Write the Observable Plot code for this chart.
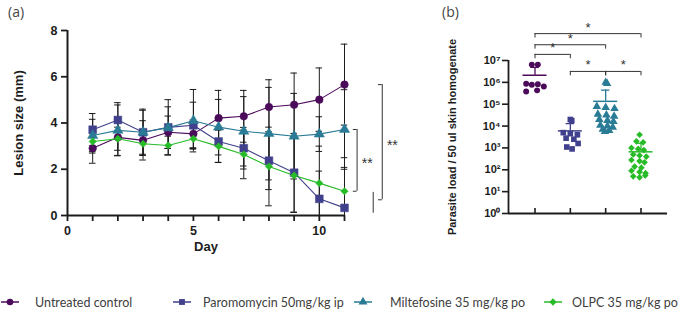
<!DOCTYPE html>
<html><head><meta charset="utf-8">
<script src="https://cdn.jsdelivr.net/npm/d3@7"></script>
<script src="https://cdn.jsdelivr.net/npm/@observablehq/plot@0.6"></script>
<style>
html,body{margin:0;padding:0;background:#fff;}
#root{position:relative;width:681px;height:311px;overflow:hidden;font-family:"Liberation Sans",Arial,sans-serif;}
.panel{position:absolute;top:0;}
.panel svg{overflow:visible;}
.tag{position:absolute;top:2px;font-family:"Open Sans",sans-serif;font-size:14px;color:#444;}
.li{position:absolute;top:293px;height:18px;display:flex;align-items:center;font-family:Lato,sans-serif;font-size:12.5px;color:#404040;white-space:nowrap;}
.li svg{display:block;}
</style></head><body><div id="root"></div>
<script>
// ---------- Panel (a): lesion size ----------
const days = [1,2,3,4,5,6,7,8,9,10,11];
const groupNames = ["Untreated control","Paromomycin 50mg/kg ip","Miltefosine 35 mg/kg po","OLPC 35 mg/kg po"];
const untreatedMean = [2.91,3.38,3.25,3.60,3.53,4.21,4.29,4.69,4.79,5.01,5.66];
const untreatedSD   = [0.65,0.78,0.85,0.70,0.60,1.20,1.12,1.18,1.37,1.37,1.75];
const paromoMean    = [3.71,4.13,3.60,3.81,3.90,3.20,2.91,2.37,1.85,0.72,0.33];
const paromoSD      = [0.70,0.75,1.00,1.20,1.00,0.90,0.90,1.25,1.70,1.20,1.75];
const miltefMean    = [3.46,3.68,3.60,3.80,4.10,3.82,3.64,3.54,3.43,3.52,3.72];
const miltefSD      = [0.70,1.10,0.95,0.90,1.35,1.20,1.50,2.00,1.85,0.75,1.72];
const olpcMean      = [3.20,3.32,3.10,3.03,3.32,2.99,2.64,2.12,1.73,1.40,1.05];
const olpcSD        = [0.50,0.50,0.50,0.40,0.45,0.70,1.05,1.70,1.60,1.60,1.45];
const xTicksA = [0,1,2,3,4,5,6,7,8,9,10,11];
const xLabelsA = [0,5,10];
const yTicksA = [0,2,4,6,8];
// significance annotations (panel a), in data units: bracket level beyond day 11
const sigA = [
  {level: 11.5, top: 3.72, bottom: 1.05, label: "**"},
  {level: 12.5, top: 5.66, bottom: 0.68, label: "**"}
];
const extraLineA = [{level: 12.14, top: 1.0, bottom: 0.1}];

// ---------- Panel (b): parasite load ----------
const untreatedLoad = [6.5e6,6.5e6,8.7e5,7.8e5,8.3e5,6.5e5,3.8e5,4.3e5];
const untreatedJit  = [-0.09,0.08,-0.25,-0.09,0.08,0.25,-0.25,0.06];
const paromoLoad    = [2.0e4,1.78e4,5.0e3,4.5e3,4.0e3,2.8e3,2.5e3,1.6e3,1.1e3,9.0e2];
const paromoJit     = [0.0,0.04,-0.2,0.0,0.2,-0.12,0.1,0.22,-0.1,0.05];
const miltefLoad    = [1.0e6,8.9e5,7.9e4,7.1e4,6.3e4,3.5e4,3.2e4,2.8e4,2.0e4,1.8e4,1.6e4,1.1e4,1.0e4,8.9e3,7.1e3,6.3e3,5.6e3];
const miltefJit     = [0.0,0.04,-0.25,0.0,0.25,-0.22,0.02,0.24,-0.18,0.05,0.22,-0.15,0.05,0.2,-0.08,0.1,-0.02];
const olpcLoad      = [4000,2000,1800,1000,900,800,500,450,400,280,250,220,140,125,90,80,70,50,45,55];
const olpcJit       = [-0.04,-0.13,0.06,-0.27,-0.08,0.08,-0.22,-0.04,0.15,-0.27,-0.04,0.1,-0.18,0.01,-0.27,-0.04,0.13,-0.22,-0.04,0.12];
const yTicksB = [1,10,100,1e3,1e4,1e5,1e6,1e7];
const sigB = [
  {from: 0, to: 3, y: 10**8.23, label: "*"},
  {from: 0, to: 2, y: 10**7.72, label: "*"},
  {from: 0, to: 1, y: 10**7.28, label: "*"},
  {from: 1, to: 2, y: 10**6.5, label: "*"},
  {from: 2, to: 3, y: 10**6.5, label: "*"}
];

// ---------- styles ----------
const colors = ["#4b0b5a","#41408d","#2a7b95","#27bb27"];
const symbols = ["circle","square","triangle","diamond2"];
const rA = [3.8,4.4,3.8,3.3];
const rB = [4.0,4.6,4.6,4.1];
const ink = "#1c1c1c";

// ---------- build tables ----------
const lesionSeries = [[untreatedMean,untreatedSD],[paromoMean,paromoSD],[miltefMean,miltefSD],[olpcMean,olpcSD]];
const lesion = lesionSeries.flatMap(([m,s],k) => days.map((d,i) => ({group: groupNames[k], k, day: d, mean: m[i], sd: s[i]})));
const loadSeries = [[untreatedLoad,untreatedJit],[paromoLoad,paromoJit],[miltefLoad,miltefJit],[olpcLoad,olpcJit]];
const load = loadSeries.flatMap(([v,j],k) => v.map((val,i) => ({group: groupNames[k], k, x: k + j[i], y: val})));
const statsB = loadSeries.map(([v],k) => ({group: groupNames[k], k, mean: d3.mean(v), sd: d3.deviation(v)}));

const colorScale = {domain: groupNames, range: colors};
const symbolScale = {domain: groupNames, range: symbols};
const baseStyle = {fontFamily: "'Liberation Sans', Arial, sans-serif", fontWeight: "bold", color: ink, background: "transparent", overflow: "visible"};

const capA = 0.13;
const plotA = Plot.plot({
  width: 420, height: 262,
  marginLeft: 67, marginRight: 76, marginTop: 30, marginBottom: 47,
  style: {...baseStyle, fontSize: "12.5px"},
  x: {domain: [0, 11]},
  y: {domain: [0, 8]},
  color: colorScale, symbol: symbolScale,
  marks: [
    Plot.axisX({ticks: xTicksA, tickFormat: d => xLabelsA.includes(d) ? String(d) : "", tickSize: 6, tickPadding: 5, strokeWidth: 1.8, label: null, fontWeight: "bold"}),
    Plot.axisY({ticks: yTicksA, tickSize: 6, tickPadding: 4, strokeWidth: 1.8, label: null, fontWeight: "bold"}),
    Plot.ruleX([0], {y1: 0, y2: 8, strokeWidth: 2, stroke: ink}),
    Plot.ruleY([0], {x1: 0, x2: 11, strokeWidth: 2, stroke: ink}),
    Plot.ruleX(lesion, {x: "day", y1: d => Math.max(0, d.mean - d.sd), y2: d => d.mean + d.sd, stroke: ink, strokeWidth: 1}),
    Plot.ruleY(lesion, {y: d => d.mean + d.sd, x1: d => d.day - capA, x2: d => d.day + capA, stroke: ink, strokeWidth: 1}),
    Plot.ruleY(lesion.filter(d => d.mean - d.sd > 0), {y: d => d.mean - d.sd, x1: d => d.day - capA, x2: d => d.day + capA, stroke: ink, strokeWidth: 1}),
    Plot.line(lesion, {x: "day", y: "mean", z: "group", stroke: "group", strokeWidth: 1.1}),
    ...groupNames.map((g,k) => Plot.dot(lesion.filter(d => d.k === k), {x: "day", y: "mean", symbol: "group", fill: "group", stroke: "group", strokeWidth: 0.5, r: rA[k]})),
    // significance brackets
    Plot.ruleX(sigA, {x: "level", y1: "bottom", y2: "top", stroke: "#333", strokeWidth: 1}),
    Plot.ruleY(sigA, {y: "top", x1: d => d.level - 0.15, x2: "level", stroke: "#333", strokeWidth: 1}),
    Plot.ruleY(sigA, {y: "bottom", x1: d => d.level - 0.15, x2: "level", stroke: "#333", strokeWidth: 1}),
    Plot.ruleX(extraLineA, {x: "level", y1: "bottom", y2: "top", stroke: "#333", strokeWidth: 1}),
    Plot.text(sigA, {x: d => d.level + 0.4, y: d => (d.top + d.bottom) / 2, text: "label", fontSize: 14, fontWeight: "normal", fill: "#333", dy: 3, letterSpacing: "2px"}),
    Plot.text(["Day"], {frameAnchor: "bottom", dy: 35, text: d => d, fontSize: 13, fontWeight: "bold"}),
    Plot.text(["Lesion size (mm)"], {frameAnchor: "left", dx: -49, dy: 0, rotate: -90, textAnchor: "middle", text: d => d, fontSize: 13, fontWeight: "bold"})
  ]
});

const sup = ["⁰","¹","²","³","⁴","⁵","⁶","⁷","⁸","⁹"];
const capB = 0.12, meanHalf = 0.34, tickB = 10**0.2;
const plotB = Plot.plot({
  width: 241, height: 250,
  marginLeft: 68, marginRight: 14, marginTop: 60, marginBottom: 37,
  style: {...baseStyle, fontSize: "10.5px"},
  x: {domain: [-0.75, 3.75]},
  y: {type: "log", domain: [1, 1e7]},
  color: colorScale, symbol: symbolScale,
  marks: [
    Plot.axisY({ticks: yTicksB, tickFormat: d => "10" + sup[Math.round(Math.log10(d))], tickSize: 6, tickPadding: 2, strokeWidth: 1.6, label: null, fontWeight: "bold", fontSize: 11}),
    Plot.axisX({ticks: [0,1,2,3], tickFormat: () => "", tickSize: 5, dy: -5, strokeWidth: 1.6, label: null}),
    Plot.ruleX([-0.75], {y1: 1, y2: 1e7, strokeWidth: 1.8, stroke: ink}),
    Plot.ruleY([1], {x1: -0.75, x2: 3.75, strokeWidth: 1.8, stroke: ink}),
    Plot.dot(load, {x: "x", y: "y", symbol: "group", fill: "group", r: d => rB[d.k]}),
    Plot.ruleY(statsB, {y: "mean", x1: d => d.k - meanHalf, x2: d => d.k + meanHalf, stroke: "group", strokeWidth: 1.5}),
    Plot.ruleX(statsB, {x: "k", y1: "mean", y2: d => d.mean + d.sd, stroke: "group", strokeWidth: 1.3}),
    Plot.ruleY(statsB, {y: d => d.mean + d.sd, x1: d => d.k - capB, x2: d => d.k + capB, stroke: "group", strokeWidth: 1.3}),
    // significance brackets
    Plot.ruleY(sigB, {y: "y", x1: "from", x2: "to", stroke: "#333", strokeWidth: 1}),
    Plot.ruleX(sigB, {x: "from", y1: d => d.y / tickB, y2: "y", stroke: "#333", strokeWidth: 1}),
    Plot.ruleX(sigB, {x: "to", y1: d => d.y / tickB, y2: "y", stroke: "#333", strokeWidth: 1}),
    Plot.text(sigB, {x: d => (d.from + d.to) / 2, y: "y", text: "label", dy: -2, lineAnchor: "bottom", fontSize: 13, fontWeight: "normal", fill: "#333"}),
    Plot.text(["Parasite load / 50 ul skin homogenate"], {frameAnchor: "left", dx: -56, rotate: -90, textAnchor: "middle", text: d => d, fontSize: 11, fontWeight: "bold"})
  ]
});

const root = document.getElementById("root");
const pa = document.createElement("div"); pa.className = "panel"; pa.style.left = "0px"; pa.appendChild(plotA); root.appendChild(pa);
const pb = document.createElement("div"); pb.className = "panel"; pb.style.left = "440px"; pb.appendChild(plotB); root.appendChild(pb);
[["(a)",8],["(b)",442]].forEach(([t,x]) => { const d = document.createElement("div"); d.className = "tag"; d.style.left = x + "px"; d.textContent = t; root.appendChild(d); });

// legend
const legendX = [[0,35],[172,203],[353,390],[543,572]];
groupNames.forEach((g,k) => {
  const mk = d3.create("svg").attr("width", 20).attr("height", 18).style("position","absolute").style("left", legendX[k][0] + "px").style("top","293px");
  mk.append("line").attr("x1",1).attr("x2",19).attr("y1",9).attr("y2",9).attr("stroke",colors[k]).attr("stroke-width",1.5);
  const symType = [d3.symbolCircle, d3.symbolSquare, d3.symbolTriangle, d3.symbolDiamond2][k];
  mk.append("path").attr("transform","translate(10,9)").attr("d", d3.symbol(symType, Math.PI * 3.3 * 3.3)()).attr("fill", colors[k]);
  root.appendChild(mk.node());
  const t = document.createElement("div"); t.className = "li"; t.style.left = legendX[k][1] + "px"; t.textContent = g; root.appendChild(t);
});
</script></body></html>
